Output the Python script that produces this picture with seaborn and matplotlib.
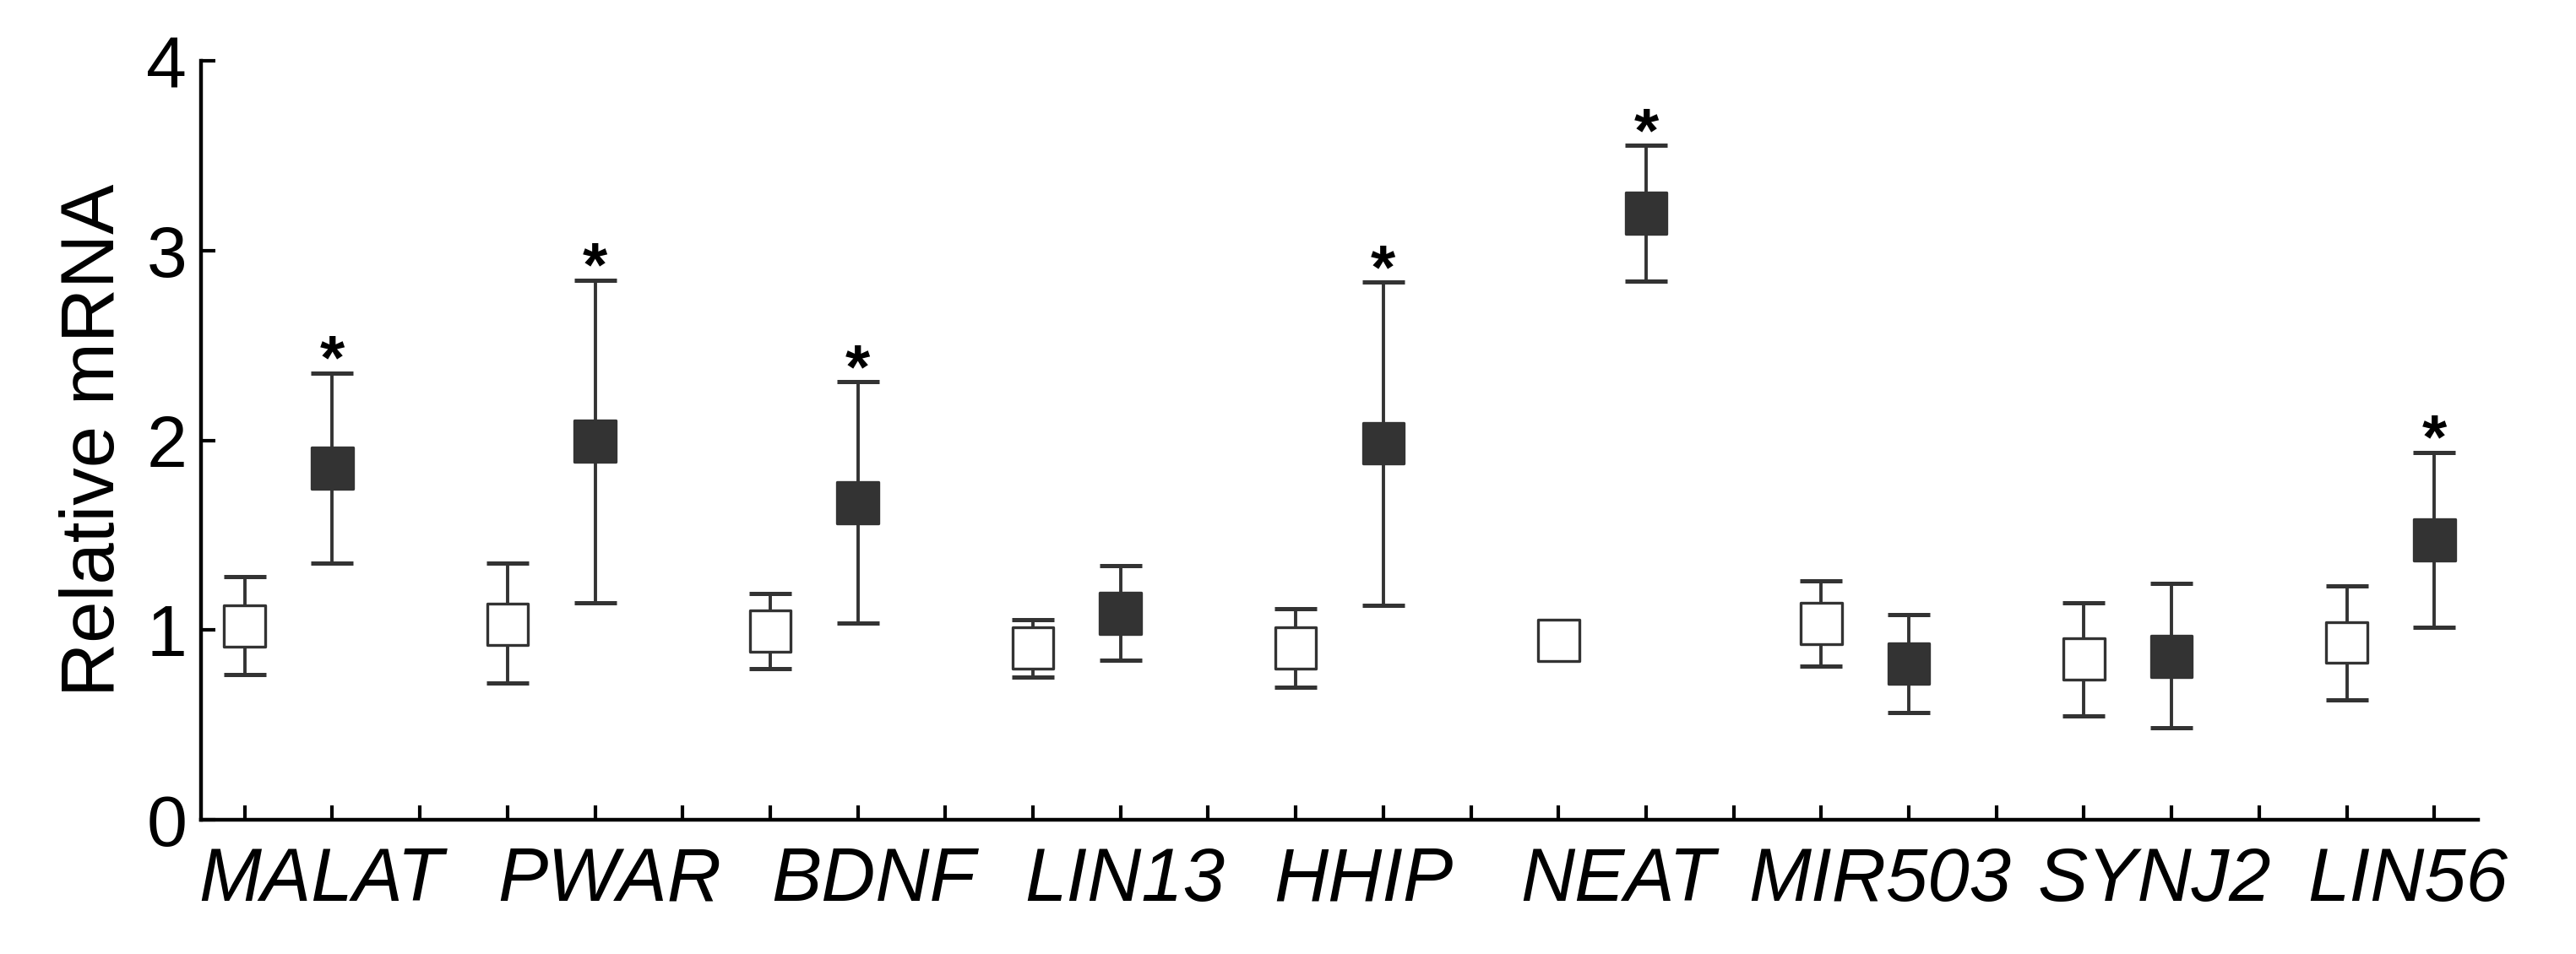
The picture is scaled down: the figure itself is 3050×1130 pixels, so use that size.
import numpy as np
import pandas as pd
import seaborn as sns
import matplotlib.pyplot as plt

# values (asymmetric error bars: low / high ends)
genes = ["MALAT", "PWAR", "BDNF", "LIN13", "HHIP", "NEAT", "MIR503", "SYNJ2", "LIN56"]
ctrl_mean = [1.02, 1.03, 0.995, 0.906, 0.906, 0.945, 1.034, 0.847, 0.934]
ctrl_low = [0.765, 0.721, 0.795, 0.754, 0.698, 0.90, 0.811, 0.546, 0.633]
ctrl_high = [1.281, 1.351, 1.194, 1.053, 1.112, 0.99, 1.26, 1.143, 1.232]
treat_mean = [1.853, 1.996, 1.672, 1.089, 1.985, 3.196, 0.824, 0.860, 1.474]
treat_low = [1.351, 1.142, 1.035, 0.841, 1.132, 2.841, 0.566, 0.484, 1.016]
treat_high = [2.356, 2.845, 2.308, 1.341, 2.833, 3.554, 1.080, 1.246, 1.936]
significant = [True, True, True, False, True, True, False, False, True]
label_shift = [0.37, 0.67, 0.68, 0.55, 0.27, 0.18, 0.17, 0.30, 0.20]

rows = []
for i, g in enumerate(genes):
    rows.append(dict(gene=g, group="Control", pos=3 * i, mean=ctrl_mean[i],
                     low=ctrl_low[i], high=ctrl_high[i]))
    rows.append(dict(gene=g, group="Treated", pos=3 * i + 1, mean=treat_mean[i],
                     low=treat_low[i], high=treat_high[i]))
df = pd.DataFrame(rows)

sns.set_style("ticks")
plt.rcParams["font.family"] = ["Liberation Sans", "DejaVu Sans"]
plt.rcParams["text.color"] = "black"
plt.rcParams["axes.labelcolor"] = "black"
plt.rcParams["xtick.color"] = "black"
plt.rcParams["ytick.color"] = "black"

dark = "#333333"
fig = plt.figure(figsize=(30.5, 11.3), dpi=100)
ax = fig.add_axes([0.078, 0.1407, 0.884, 0.7955])

# error bars behind the squares
for grp, sub in df.groupby("group"):
    ax.errorbar(sub["pos"], sub["mean"],
                yerr=[sub["mean"] - sub["low"], sub["high"] - sub["mean"]],
                fmt="none", ecolor=dark, elinewidth=2.8, capsize=18, capthick=3.6,
                zorder=1)

sns.scatterplot(data=df, x="pos", y="mean", hue="group",
                palette={"Control": "white", "Treated": dark},
                marker="s", s=1225, edgecolor=dark, linewidth=2.4,
                legend=False, zorder=3, ax=ax)

# significance stars
for i, sig in enumerate(significant):
    if sig:
        ax.text(3 * i + 1, treat_high[i] - 0.03, "*", ha="center", va="baseline",
                fontsize=54, fontweight="bold", color="black")

ax.set_xlim(-0.5, 25.5)
ax.set_ylim(0, 4)
ax.set_yticks([0, 1, 2, 3, 4])
ax.set_xticks(np.arange(26))
ax.set_xticklabels([])
ax.set_xticks([3 * i + 0.5 + label_shift[i] for i in range(len(genes))], genes, minor=True)

ax.tick_params(axis="both", which="major", direction="in", length=12, width=3,
               color="black")
ax.tick_params(axis="y", labelsize=62, pad=12, labelcolor="black")
ax.tick_params(axis="x", which="minor", length=0, labelsize=64, pad=22,
               labelcolor="black")
for lab in ax.get_xticklabels(minor=True):
    lab.set_fontstyle("italic")

ax.set_xlabel("")
ax.set_ylabel("Relative mRNA", fontsize=64, labelpad=14, color="black")

for side in ["top", "right"]:
    ax.spines[side].set_visible(False)
for side in ["left", "bottom"]:
    ax.spines[side].set_linewidth(3.2)
    ax.spines[side].set_color("black")

fig.savefig("out.png", dpi=100)
